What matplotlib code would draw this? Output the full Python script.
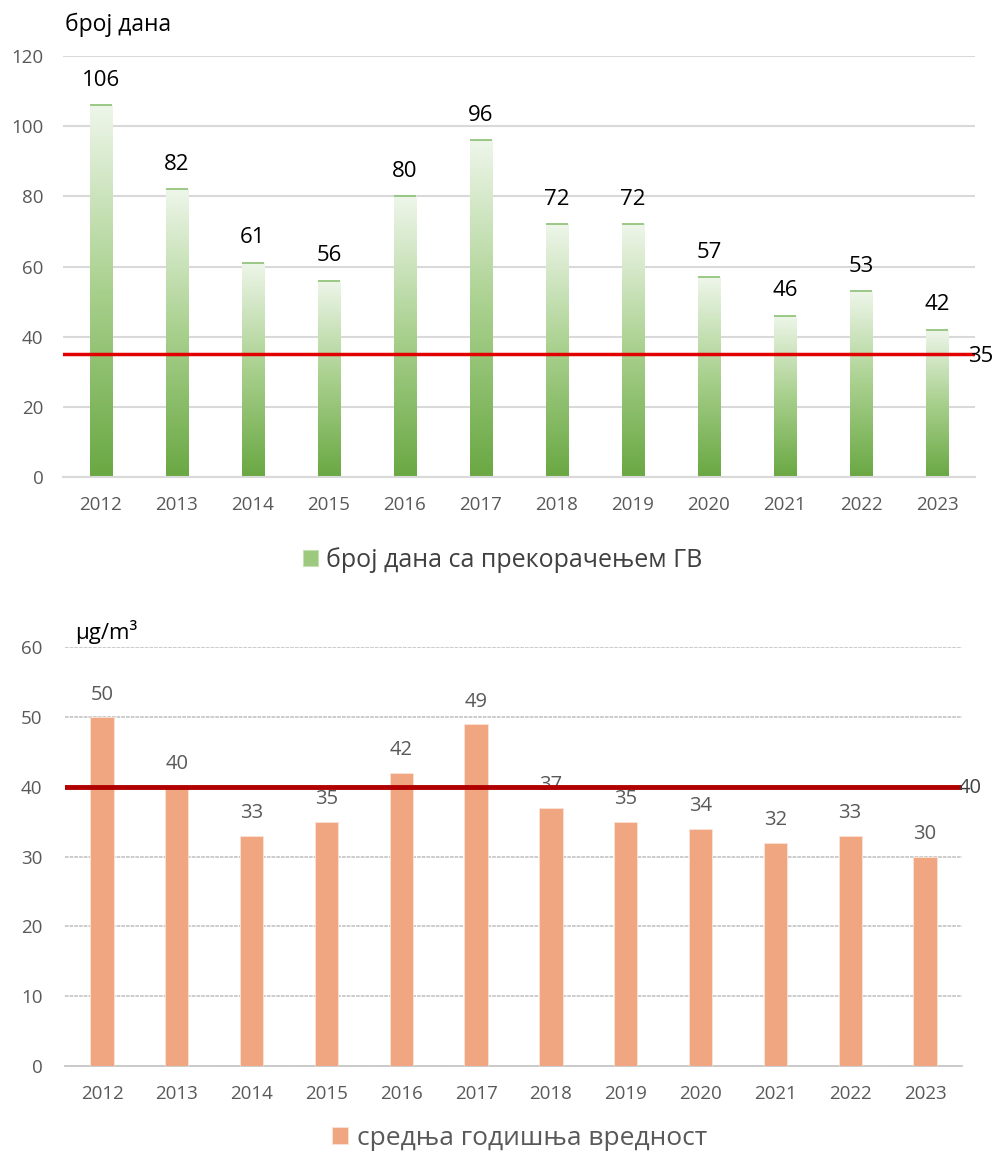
import matplotlib
matplotlib.use("Agg")
import matplotlib.pyplot as plt
import numpy as np
from matplotlib.colors import LinearSegmentedColormap
from matplotlib.patches import Rectangle

plt.rcParams['font.family'] = ['Open Sans', 'DejaVu Sans']

years = ['2012', '2013', '2014', '2015', '2016', '2017', '2018', '2019', '2020', '2021', '2022', '2023']
days_over = [106, 82, 61, 56, 80, 96, 72, 72, 57, 46, 53, 42]
annual_mean = [50, 40, 33, 35, 42, 49, 37, 35, 34, 32, 33, 30]
limit_days = 35
limit_mean = 40
top_ylabel = 'број дана'
bottom_ylabel = 'µg/m³'
top_legend = 'број дана са прекорачењем ГВ'
bottom_legend = 'средња годишња вредност'

W, H = 995, 1155
fig = plt.figure(figsize=(W / 100, H / 100), dpi=100)

def ax_rect(l, r, t, b):
    return [l / W, 1 - b / H, (r - l) / W, (b - t) / H]

tick_grey = '#595959'
grid_grey = '#d9d9d9'

# ---------- top chart ----------
ax1 = fig.add_axes(ax_rect(63, 975, 56, 477))
x = np.arange(len(years))
bw_top = 0.3
green_cmap = LinearSegmentedColormap.from_list('g', ['#6aa843', '#a8d08d', '#eef6ea'])
bars = ax1.bar(x, days_over, width=bw_top, color='none', edgecolor='none', zorder=3)
grad = np.linspace(0, 1, 256).reshape(-1, 1)
for b in bars:
    bx, by = b.get_x(), b.get_y()
    bw, bh = b.get_width(), b.get_height()
    im = ax1.imshow(grad, extent=[bx, bx + bw, by, by + bh], origin='lower',
                    aspect='auto', cmap=green_cmap, zorder=2)
    im.set_clip_path(b)
ax1.hlines(days_over, x - bw_top / 2, x + bw_top / 2, color='#93c47d', linewidth=1.3, zorder=3)
ax1.set_xlim(-0.5, len(years) - 0.5)
ax1.set_ylim(0, 120)
ax1.set_yticks(range(0, 121, 20))
ax1.grid(axis='y', color=grid_grey, linewidth=1.5)
ax1.set_axisbelow(True)
for s in ['top', 'right', 'left']:
    ax1.spines[s].set_visible(False)
ax1.spines['bottom'].set_color(grid_grey)
ax1.spines['bottom'].set_linewidth(1.5)
ax1.tick_params(axis='both', length=0, colors=tick_grey, labelsize=13.5)
ax1.tick_params(axis='y', pad=14)
ax1.tick_params(axis='x', pad=14)
ax1.set_xticks(x)
ax1.set_xticklabels(years)
for xi, v in zip(x, days_over):
    ax1.annotate(str(v), (xi, v), xytext=(0, 18), textcoords='offset points',
                 ha='center', va='center', fontsize=16, color='#000000')
ax1.axhline(limit_days, color='#e00000', linewidth=2.5, zorder=4)
ax1.annotate(str(limit_days), (len(years) - 0.5, limit_days), xytext=(-5, -2),
             textcoords='offset points', ha='left', va='center', fontsize=16,
             color='#000000', annotation_clip=False, zorder=5)
fig.text(65 / W, 1 - 25 / H, top_ylabel, fontsize=16.5, color='#000000', va='center', ha='left')
h1 = Rectangle((0, 0), 1, 1, facecolor='#9cc97e', edgecolor='#c5e0b3', linewidth=0.8)
ax1.legend([h1], [top_legend], loc='center', bbox_to_anchor=(0.482, -0.197),
           frameon=False, fontsize=18, handlelength=0.6, handleheight=0.6,
           handletextpad=0.35, labelcolor='#404040')

# ---------- bottom chart ----------
ax2 = fig.add_axes(ax_rect(64.6, 962.4, 647, 1066))
bars2 = ax2.bar(x, annual_mean, width=0.31, color='#f1a682', edgecolor='#fbe3d6',
                linewidth=0.6, zorder=3)
ax2.set_xlim(-0.5, len(years) - 0.5)
ax2.set_ylim(0, 60)
ax2.set_yticks(range(0, 61, 10))
ax2.grid(axis='y', color='#c8c8c8', linewidth=1.3, linestyle=(0, (2, 0.6)))
ax2.set_axisbelow(True)
for s in ['top', 'right', 'left']:
    ax2.spines[s].set_visible(False)
ax2.spines['bottom'].set_color('#c8c8c8')
ax2.spines['bottom'].set_linewidth(1.3)
ax2.tick_params(axis='both', length=0, colors=tick_grey, labelsize=13.5)
ax2.tick_params(axis='y', pad=16)
ax2.tick_params(axis='x', pad=14)
ax2.set_xticks(x)
ax2.set_xticklabels(years)
for xi, v in zip(x, annual_mean):
    ax2.annotate(str(v), (xi, v), xytext=(0, 16), textcoords='offset points',
                 ha='center', va='center', fontsize=14.5, color='#595959', zorder=2)
ax2.axhline(limit_mean, color='#b00000', linewidth=3.5, zorder=4)
ax2.annotate(str(limit_mean), (len(years) - 0.5, limit_mean), xytext=(-3, -1),
             textcoords='offset points', ha='left', va='center', fontsize=14.5,
             color='#404040', annotation_clip=False, zorder=5)
fig.text(75 / W, 1 - 632 / H, bottom_ylabel, fontsize=16, color='#000000', va='center', ha='left')
ax2.legend([bars2[0]], [bottom_legend], loc='center', bbox_to_anchor=(0.507, -0.172),
           frameon=False, fontsize=19, handlelength=0.6, handleheight=0.6,
           handletextpad=0.35, labelcolor='#595959', borderaxespad=0, borderpad=0.1)

fig.savefig('out.png', dpi=100, facecolor='white')
